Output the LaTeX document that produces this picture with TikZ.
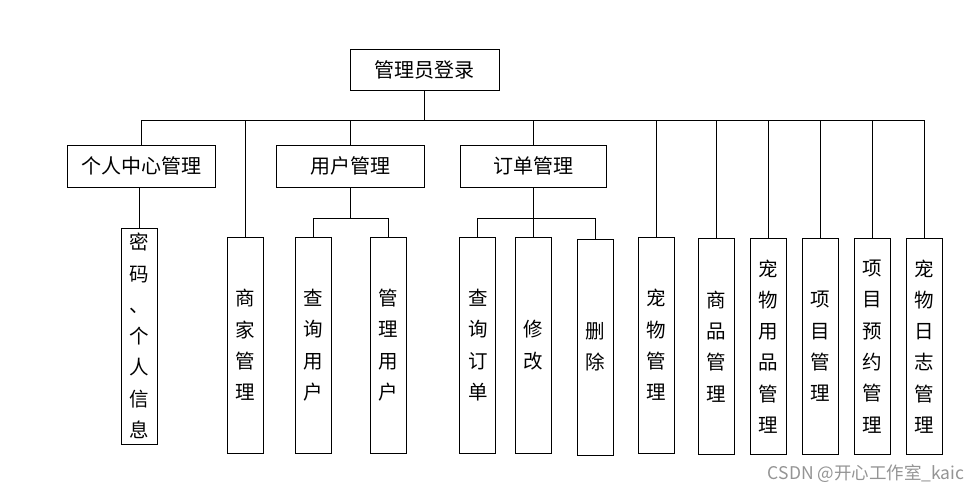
\documentclass[tikz,border=0pt]{standalone}
\usepackage{fontspec}
\newfontfamily\cjk{Noto Sans CJK SC}
\begin{document}
\begin{tikzpicture}[x=1pt,y=-1pt,
  line width=0.9pt,
  hbox/.style={draw, rectangle, inner sep=0pt, minimum height=42pt, font=\cjk\fontsize{20}{24}\selectfont},
  leaf/.style={draw, rectangle, inner sep=0pt, minimum width=36pt, minimum height=216pt, align=center, font=\cjk\fontsize{19.5}{31.3}\selectfont},
  wm/.style={font=\cjk\fontsize{17.5}{20}\selectfont, text=black!42, inner sep=0pt}]
\useasboundingbox (0,0) rectangle (980,492);

\node[hbox, minimum width=149pt, minimum height=41pt] (top) at (424.5,69.5) {管理员登录};
\node[hbox, minimum width=148pt] (grzx) at (141,166) {个人中心管理};
\node[hbox, minimum width=148pt] (yhgl) at (350,166) {用户管理};
\node[hbox, minimum width=146pt] (ddgl) at (533.5,166) {订单管理};

\node[leaf] (mm) at (139.5,336) {密\\码\\、\\个\\人\\信\\息};
\node[leaf] (sjgl) at (245.5,345) {商\\家\\管\\理};
\node[leaf] (cxyh) at (313.3,345) {查\\询\\用\\户};
\node[leaf] (glyh) at (388.7,345) {管\\理\\用\\户};
\node[leaf] (cxdd) at (477.8,345) {查\\询\\订\\单};
\node[leaf] (xg) at (533.5,345) {修\\改};
\node[leaf] (sc) at (595.3,347) {删\\除};
\node[leaf] (cwgl) at (656.5,345) {宠\\物\\管\\理};
\node[leaf] (spgl) at (716.7,346.5) {商\\品\\管\\理};
\node[leaf] (cwyp) at (768,346.5) {宠\\物\\用\\品\\管\\理};
\node[leaf] (xmgl) at (820.5,346.5) {项\\目\\管\\理};
\node[leaf] (xmyy) at (872,346.5) {项\\目\\预\\约\\管\\理};
\node[leaf] (cwrz) at (924.5,346.5) {宠\\物\\日\\志\\管\\理};

\coordinate (bus) at (424.5,120);
\coordinate (ub) at (350,218.7);
\coordinate (db) at (533.5,218.7);

\draw (top.south) -- (bus);
\foreach \n in {grzx,sjgl,yhgl,ddgl,cwgl,spgl,cwyp,xmgl,xmyy,cwrz}
  \draw (\n.north) |- (bus);

\draw (mm.north) -- (mm.north |- grzx.south);

\draw (yhgl.south) -- (ub);
\draw (cxyh.north) |- (ub);
\draw (glyh.north) |- (ub);

\draw (ddgl.south) -- (db);
\draw (cxdd.north) |- (db);
\draw (xg.north) -- (db);
\draw (sc.north) |- (db);

\node[wm, anchor=east] (wmark) at (965,474) {CSDN @开心工作室\_kaic};
\end{tikzpicture}
\end{document}
